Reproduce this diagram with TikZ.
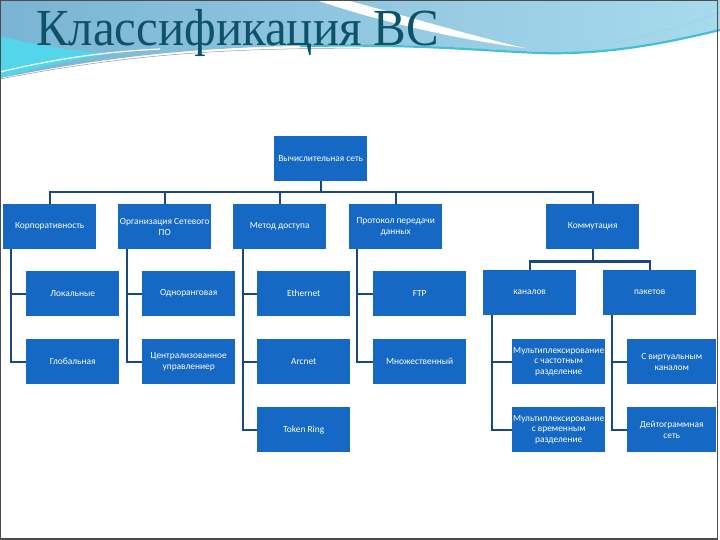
\documentclass[tikz,border=0pt]{standalone}
\usepackage{fontspec}
\setmainfont{Carlito}
\newfontfamily\titlefont{Liberation Serif}
\definecolor{boxblue}{RGB}{21,104,196}
\definecolor{linkblue}{RGB}{24,72,128}
\definecolor{titleteal}{RGB}{14,82,104}
\definecolor{bandtop}{RGB}{122,180,212}
\definecolor{bandright}{RGB}{168,218,236}
\definecolor{bandcyan}{RGB}{84,214,234}
\definecolor{streak}{RGB}{70,190,215}
\begin{document}
\begin{tikzpicture}[x=1pt,y=-1pt,
  box/.style={fill=boxblue, text=white, minimum width=93pt, minimum height=45pt,
    inner sep=1pt, align=center, anchor=north west,
    font=\fontsize{9.4}{10.6}\selectfont},
  conn/.style={draw=linkblue, line width=2.2pt}]
\useasboundingbox (0,0) rectangle (720,540);
\fill[white] (0,0) rectangle (720,540);
% banner
\path[left color=bandtop, right color=bandright]
  (0,0) -- (720,0) -- (720,30) .. controls (660,45) and (600,55) .. (540,52)
  .. controls (460,48) and (400,44) .. (360,45) .. controls (250,46) and (150,48) .. (0,78) -- cycle;
\fill[bandcyan] (0,36) -- (0,78) .. controls (30,70) and (60,62) .. (110,54)
  .. controls (70,50) and (30,44) .. (0,36) -- cycle;
\fill[white] (316,0) -- (346,0) .. controls (420,20) and (480,38) .. (525,48)
  .. controls (460,40) and (380,22) .. (316,0) -- cycle;
\draw[streak, line width=2.2pt] (300,46) .. controls (420,44) and (470,50) .. (540,53)
  .. controls (610,55) and (670,42) .. (720,30);
\draw[streak!60!white, line width=0.8pt] (560,50) .. controls (620,45) and (680,28) .. (720,12);
\draw[white, line width=1.2pt] (0,72) .. controls (50,60) and (100,52) .. (160,49);
\draw[black!40, line width=0.5pt] (0,79) .. controls (150,50) and (250,49) .. (360,48);
\node[anchor=base west, inner sep=0pt, text=titleteal, xscale=0.94,
  font=\titlefont\fontsize{52}{52}\selectfont] (title) at (36,46) {Классификация ВС};
% frame
\draw[black!70, line width=1.2pt] (0.6,0.6) rectangle (717.5,539);
% boxes
\node[box] (root) at (274,136) {Вычислительная сеть};
\node[box] (k1) at (3,204) {Корпоративность};
\node[box] (k2) at (118,204) {Организация Сетевого\\ПО};
\node[box] (k3) at (233,204) {Метод доступа};
\node[box] (k4) at (349,204) {Протокол передачи\\данных};
\node[box] (k5) at (546,204) {Коммутация};
\node[box] (a1) at (26,271) {Локальные};
\node[box] (a2) at (26,339) {Глобальная};
\node[box] (b1) at (142,271) {Одноранговая};
\node[box] (b2) at (142,339) {Централизованное\\управлениер};
\node[box] (c1) at (257,271) {Ethernet};
\node[box] (c2) at (257,339) {Arcnet};
\node[box] (c3) at (257,407) {Token Ring};
\node[box] (d1) at (373,271) {FTP};
\node[box] (d2) at (373,339) {Множественный};
\node[box] (e1) at (483,270) {каналов};
\node[box] (e2) at (603,270) {пакетов};
\node[box] (f1) at (512,339) {Мультиплексирование\\с частотным\\разделение};
\node[box] (f2) at (512,407) {Мультиплексирование\\с временным\\разделение};
\node[box, minimum width=89pt] (g1) at (627,339) {С виртуальным\\каналом};
\node[box, minimum width=89pt] (g2) at (627,407) {Дейтограммная\\сеть};
% connectors
\draw[conn] (root.south) -- ++(0,12);
\draw[conn] (k1.north) -- ++(0,-12) -| (k5.north);
\draw[conn] (k2.north) -- ++(0,-12);
\draw[conn] (k3.north) -- ++(0,-12);
\draw[conn] (k4.north) -- ++(0,-12);
\draw[conn] ([xshift=8pt]k1.south west) |- (a2.west);
\draw[conn] ([xshift=8pt]k1.south west) |- (a1.west);
\draw[conn] ([xshift=9pt]k2.south west) |- (b2.west);
\draw[conn] ([xshift=9pt]k2.south west) |- (b1.west);
\draw[conn] ([xshift=10pt]k3.south west) |- (c3.west);
\draw[conn] ([xshift=10pt]k3.south west) |- (c2.west);
\draw[conn] ([xshift=10pt]k3.south west) |- (c1.west);
\draw[conn] ([xshift=8pt]k4.south west) |- (d2.west);
\draw[conn] ([xshift=8pt]k4.south west) |- (d1.west);
\draw[conn] (k5.south) -- ++(0,12) coordinate (kb);
\draw[conn] (e1.north) |- (kb) -| (e2.north);
\draw[conn] ([xshift=9pt]e1.south west) |- (f2.west);
\draw[conn] ([xshift=9pt]e1.south west) |- (f1.west);
\draw[conn] ([xshift=9pt]e2.south west) |- (g2.west);
\draw[conn] ([xshift=9pt]e2.south west) |- (g1.west);
\end{tikzpicture}
\end{document}
